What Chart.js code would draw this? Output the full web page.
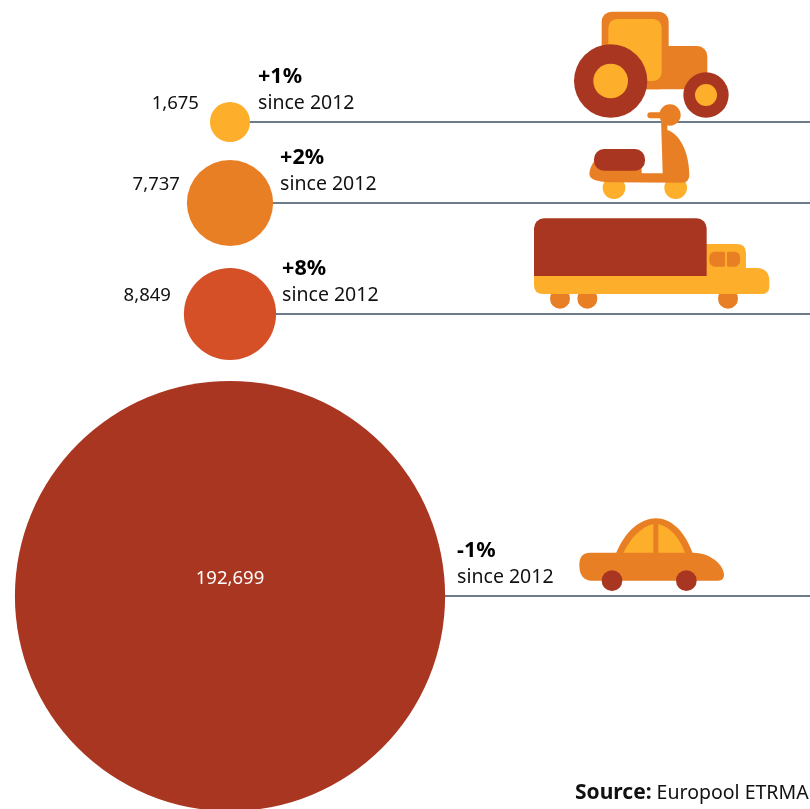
<!DOCTYPE html>
<html>
<head>
<meta charset="utf-8">
<style>html,body{margin:0;padding:0;background:#fff;overflow:hidden}canvas{display:block}</style>
<script src="https://cdn.jsdelivr.net/npm/chart.js@4/dist/chart.umd.min.js"></script>
</head>
<body>
<canvas id="c" width="810" height="809"></canvas>
<script>
// Data
const categories = ['Agricultural', 'Moto / scooter', 'Truck / bus', 'Passenger car'];
const values = [1675, 7737, 8849, 192699];
const valueLabels = ['1,675', '7,737', '8,849', '192,699'];
const changeLabels = ['+1%', '+2%', '+8%', '-1%'];
const sinceLabel = 'since 2012';
const sourceBold = 'Source:';
const sourceText = 'Europool ETRMA';
// Colours
const YELLOW = '#FDAE2B', ORANGE = '#E97F25', RED = '#D55027', DARK = '#A93621';
const bubbleColors = [YELLOW, ORANGE, RED, DARK];
const LINE = '#6E7B8A', INK = '#111111';
// Layout (rows on a page-sized scale)
const rowY = [122, 203, 314, 596];
const columnX = 230, lineEndX = 810;
const radiusFactor = 0.49;
const valueGap = [11, 7, 13, 0];
const changeGap = [8, 7, 6, 12];
const FONT = '"Noto Sans", sans-serif';

const radiusOf = v => radiusFactor * Math.sqrt(v);

function icon(ctx, ox, oy, draw) {
  ctx.save(); ctx.translate(ox, oy); ctx.scale(1/3, 1/3); draw(ctx); ctx.restore();
}
function rr(ctx, x, y, w, h, r, col) {
  ctx.fillStyle = col; ctx.beginPath(); ctx.roundRect(x, y, w, h, r); ctx.fill();
}
function dot(ctx, x, y, r, col) {
  ctx.fillStyle = col; ctx.beginPath(); ctx.arc(x, y, r, 0, Math.PI * 2); ctx.fill();
}
function tractor(c) {
  rr(c, 125, 35, 201, 233, 30, ORANGE);
  rr(c, 200, 138, 242, 130, 30, ORANGE);
  rr(c, 145, 57, 160, 186, 26, YELLOW);
  dot(c, 152, 243, 110, DARK); dot(c, 152, 243, 52, YELLOW);
  dot(c, 438, 285, 68, DARK); dot(c, 438, 285, 33, YELLOW);
}
function scooter(c) {
  dot(c, 102, 278, 34, YELLOW); dot(c, 287, 278, 34, YELLOW);
  c.fillStyle = ORANGE;
  dot(c, 270, 60, 32, ORANGE);
  rr(c, 202, 52, 60, 18, 9, ORANGE);
  c.fillStyle = ORANGE; c.beginPath();
  c.moveTo(243, 70); c.lineTo(262, 88); c.lineTo(262, 105);
  c.bezierCurveTo(305, 120, 328, 180, 328, 240);
  c.quadraticCurveTo(328, 263, 305, 263);
  c.lineTo(90, 262);
  c.bezierCurveTo(50, 260, 28, 255, 28, 235);
  c.quadraticCurveTo(30, 215, 45, 195);
  c.lineTo(185, 200); c.lineTo(185, 235); c.lineTo(248, 235);
  c.closePath(); c.fill();
  rr(c, 42, 162, 153, 65, 30, DARK);
}
function truck(c) {
  dot(c, 105, 266, 30, ORANGE); dot(c, 187, 266, 30, ORANGE); dot(c, 609, 266, 30, ORANGE);
  c.fillStyle = YELLOW; c.beginPath();
  c.moveTo(27, 190); c.lineTo(530, 190); c.lineTo(530, 102); c.lineTo(635, 102);
  c.quadraticCurveTo(663, 102, 663, 130); c.lineTo(663, 174); c.lineTo(695, 174);
  c.quadraticCurveTo(733, 176, 733, 212); c.lineTo(733, 230);
  c.quadraticCurveTo(733, 252, 708, 252); c.lineTo(55, 252);
  c.quadraticCurveTo(27, 252, 27, 225); c.closePath(); c.fill();
  c.fillStyle = DARK; c.beginPath();
  c.roundRect(27, 25, 518, 173, [30, 30, 0, 0]); c.fill();
  rr(c, 553, 125, 47, 45, [16, 4, 4, 16], ORANGE);
  rr(c, 606, 125, 39, 45, [4, 16, 16, 4], ORANGE);
}
function car(c) {
  c.fillStyle = ORANGE; c.beginPath();
  c.moveTo(136, 135); c.bezierCurveTo(165, 60, 215, 25, 258, 25);
  c.bezierCurveTo(305, 25, 345, 65, 370, 135); c.closePath(); c.fill();
  c.fillStyle = YELLOW; c.beginPath();
  c.moveTo(160, 129); c.bezierCurveTo(180, 85, 215, 50, 250, 42); c.lineTo(250, 129); c.closePath(); c.fill();
  c.beginPath();
  c.moveTo(265, 42); c.bezierCurveTo(300, 50, 330, 85, 345, 129); c.lineTo(265, 129); c.closePath(); c.fill();
  c.fillStyle = ORANGE; c.beginPath();
  c.moveTo(60, 128); c.lineTo(370, 128);
  c.bezierCurveTo(430, 130, 462, 170, 462, 195);
  c.quadraticCurveTo(462, 212, 445, 212); c.lineTo(65, 212);
  c.bezierCurveTo(40, 212, 28, 195, 28, 165);
  c.quadraticCurveTo(28, 128, 60, 128); c.closePath(); c.fill();
  dot(c, 126, 212, 31, DARK); dot(c, 349, 212, 31, DARK);
}

const decor = {
  id: 'decor',
  afterDatasetsDraw(chart) {
    const ctx = chart.ctx, x = chart.scales.x, y = chart.scales.y;
    // vehicle pictograms
    icon(ctx, 560, 0, tractor);
    icon(ctx, 580, 95, scooter);
    icon(ctx, 525, 210, truck);
    icon(ctx, 570, 510, car);
    ctx.save();
    ctx.textBaseline = 'middle';
    values.forEach((v, i) => {
      const cx = x.getPixelForValue(columnX), cy = y.getPixelForValue(rowY[i]), r = radiusOf(v);
      // value
      ctx.font = '400 18.5px ' + FONT;
      if (i === 3) {
        ctx.fillStyle = '#FFFFFF'; ctx.textAlign = 'center';
        ctx.fillText(valueLabels[i], cx, cy - 17);
      } else {
        ctx.fillStyle = INK; ctx.textAlign = 'right';
        ctx.fillText(valueLabels[i], cx - r - valueGap[i], cy - 18);
      }
      // change
      const tx = cx + r + changeGap[i];
      ctx.textAlign = 'left'; ctx.fillStyle = '#000';
      ctx.font = '700 21.5px ' + FONT;
      ctx.fillText(changeLabels[i], tx, cy - 45);
      ctx.font = '400 19.5px ' + FONT;
      ctx.fillStyle = INK;
      ctx.fillText(sinceLabel, tx, cy - 18.5);
    });
    // source
    ctx.textAlign = 'left'; ctx.fillStyle = INK;
    ctx.font = '700 21px ' + FONT;
    ctx.fillText(sourceBold, 575, 793);
    const w = ctx.measureText(sourceBold).width;
    ctx.font = '400 19.5px ' + FONT;
    ctx.fillText(sourceText, 575 + w + 5, 793);
    ctx.restore();
  }
};

const lineSets = values.map((v, i) => ({
  type: 'line',
  label: categories[i] + ' rule',
  data: [{ x: columnX, y: rowY[i] }, { x: lineEndX, y: rowY[i] }],
  borderColor: LINE, borderWidth: 2, pointRadius: 0, fill: false, order: 2
}));

new Chart(document.getElementById('c'), {
  type: 'bubble',
  data: {
    datasets: [{
      label: 'Tyres',
      data: values.map((v, i) => ({ x: columnX, y: rowY[i], v, r: radiusOf(v) })),
      backgroundColor: bubbleColors,
      borderWidth: 0,
      order: 1,
      clip: false
    }, ...lineSets]
  },
  options: {
    responsive: false,
    animation: false,
    layout: { padding: 0, autoPadding: false },
    plugins: { legend: { display: false }, tooltip: { enabled: false } },
    scales: {
      x: { type: 'linear', min: 0, max: 810, display: false },
      y: { type: 'linear', min: 0, max: 809, reverse: true, display: false }
    }
  },
  plugins: [decor]
});
</script>
</body>
</html>
